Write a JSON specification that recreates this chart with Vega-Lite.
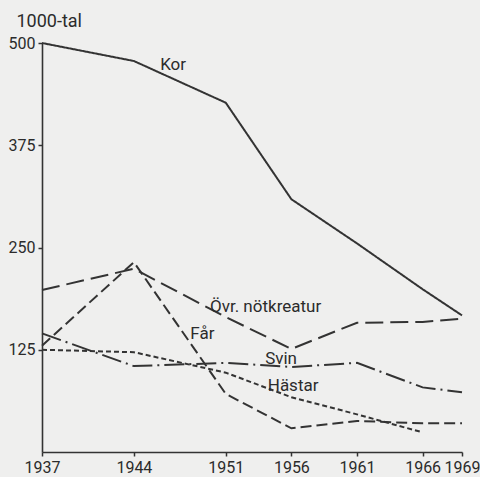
{
  "$schema": "https://vega.github.io/schema/vega-lite/v6.json",
  "width": 420,
  "height": 409,
  "autosize": {"type": "none"},
  "padding": {"left": 42, "top": 43, "right": 18, "bottom": 25},
  "background": "#efefee",
  "config": {
    "view": {"stroke": null},
    "font": "Roboto",
    "axis": {
      "grid": false,
      "domainColor": "#333333",
      "tickColor": "#333333",
      "labelColor": "#2b2b2b",
      "labelFont": "Roboto",
      "labelFontSize": 16,
      "domainWidth": 1.6,
      "tickWidth": 1.5
    }
  },
  "datasets": {
    "series": [
      {"series": "Kor", "year": 1937, "value": 500},
      {"series": "Kor", "year": 1944, "value": 478},
      {"series": "Kor", "year": 1951, "value": 427},
      {"series": "Kor", "year": 1956, "value": 309},
      {"series": "Kor", "year": 1961, "value": 255},
      {"series": "Kor", "year": 1966, "value": 199},
      {"series": "Kor", "year": 1969, "value": 167},
      {"series": "Övr. nötkreatur", "year": 1937, "value": 198},
      {"series": "Övr. nötkreatur", "year": 1944, "value": 224},
      {"series": "Övr. nötkreatur", "year": 1951, "value": 165},
      {"series": "Övr. nötkreatur", "year": 1956, "value": 126},
      {"series": "Övr. nötkreatur", "year": 1961, "value": 158},
      {"series": "Övr. nötkreatur", "year": 1966, "value": 159},
      {"series": "Övr. nötkreatur", "year": 1969, "value": 163},
      {"series": "Får", "year": 1937, "value": 130},
      {"series": "Får", "year": 1944, "value": 232},
      {"series": "Får", "year": 1951, "value": 71},
      {"series": "Får", "year": 1956, "value": 29},
      {"series": "Får", "year": 1961, "value": 38},
      {"series": "Får", "year": 1966, "value": 35},
      {"series": "Får", "year": 1969, "value": 35},
      {"series": "Svin", "year": 1937, "value": 145},
      {"series": "Svin", "year": 1944, "value": 105},
      {"series": "Svin", "year": 1951, "value": 109},
      {"series": "Svin", "year": 1956, "value": 104},
      {"series": "Svin", "year": 1961, "value": 109},
      {"series": "Svin", "year": 1966, "value": 79},
      {"series": "Svin", "year": 1969, "value": 73},
      {"series": "Hästar", "year": 1937, "value": 125},
      {"series": "Hästar", "year": 1944, "value": 122},
      {"series": "Hästar", "year": 1951, "value": 97},
      {"series": "Hästar", "year": 1956, "value": 67},
      {"series": "Hästar", "year": 1961, "value": 46},
      {"series": "Hästar", "year": 1966, "value": 24}
    ],
    "labels": [
      {"label": "Kor", "year": 1946.0, "value": 467},
      {"label": "Övr. nötkreatur", "year": 1949.8, "value": 171},
      {"label": "Får", "year": 1948.3, "value": 138},
      {"label": "Svin", "year": 1954.0, "value": 108},
      {"label": "Hästar", "year": 1954.2, "value": 75}
    ]
  },
  "layer": [
    {
      "data": {"name": "series"},
      "mark": {"type": "line", "color": "#333333", "strokeWidth": 2},
      "encoding": {
        "x": {
          "field": "year",
          "type": "quantitative",
          "scale": {"domain": [1937, 1969], "nice": false, "zero": false},
          "axis": {
            "values": [1937, 1944, 1951, 1956, 1961, 1966, 1969],
            "format": "d",
            "title": null,
            "tickSize": 4,
            "labelPadding": 3,
            "labelOverlap": false,
            "labelFlush": false,
            "labelBound": false
          }
        },
        "y": {
          "field": "value",
          "type": "quantitative",
          "scale": {"domain": [0, 500], "nice": false},
          "axis": {
            "values": [125, 250, 375, 500],
            "tickSize": 4,
            "labelPadding": 3,
            "title": "1000-tal",
            "titleAngle": 0,
            "titleAlign": "left",
            "titleBaseline": "alphabetic",
            "titleX": -26,
            "titleY": -17,
            "titleFontSize": 18,
            "titleFontWeight": "normal",
            "titleFont": "Roboto",
            "titleColor": "#2b2b2b"
          }
        },
        "strokeDash": {
          "field": "series",
          "type": "nominal",
          "scale": {
            "domain": ["Kor", "Övr. nötkreatur", "Får", "Svin", "Hästar"],
            "range": [[1, 0], [18, 7], [11, 5], [20, 5, 2, 5], [5, 3]]
          },
          "legend": null
        }
      }
    },
    {
      "data": {"name": "labels"},
      "mark": {"type": "text", "align": "left", "baseline": "alphabetic", "fontSize": 17, "color": "#2b2b2b", "font": "Roboto"},
      "encoding": {
        "x": {"field": "year", "type": "quantitative"},
        "y": {"field": "value", "type": "quantitative"},
        "text": {"field": "label"}
      }
    }
  ]
}
